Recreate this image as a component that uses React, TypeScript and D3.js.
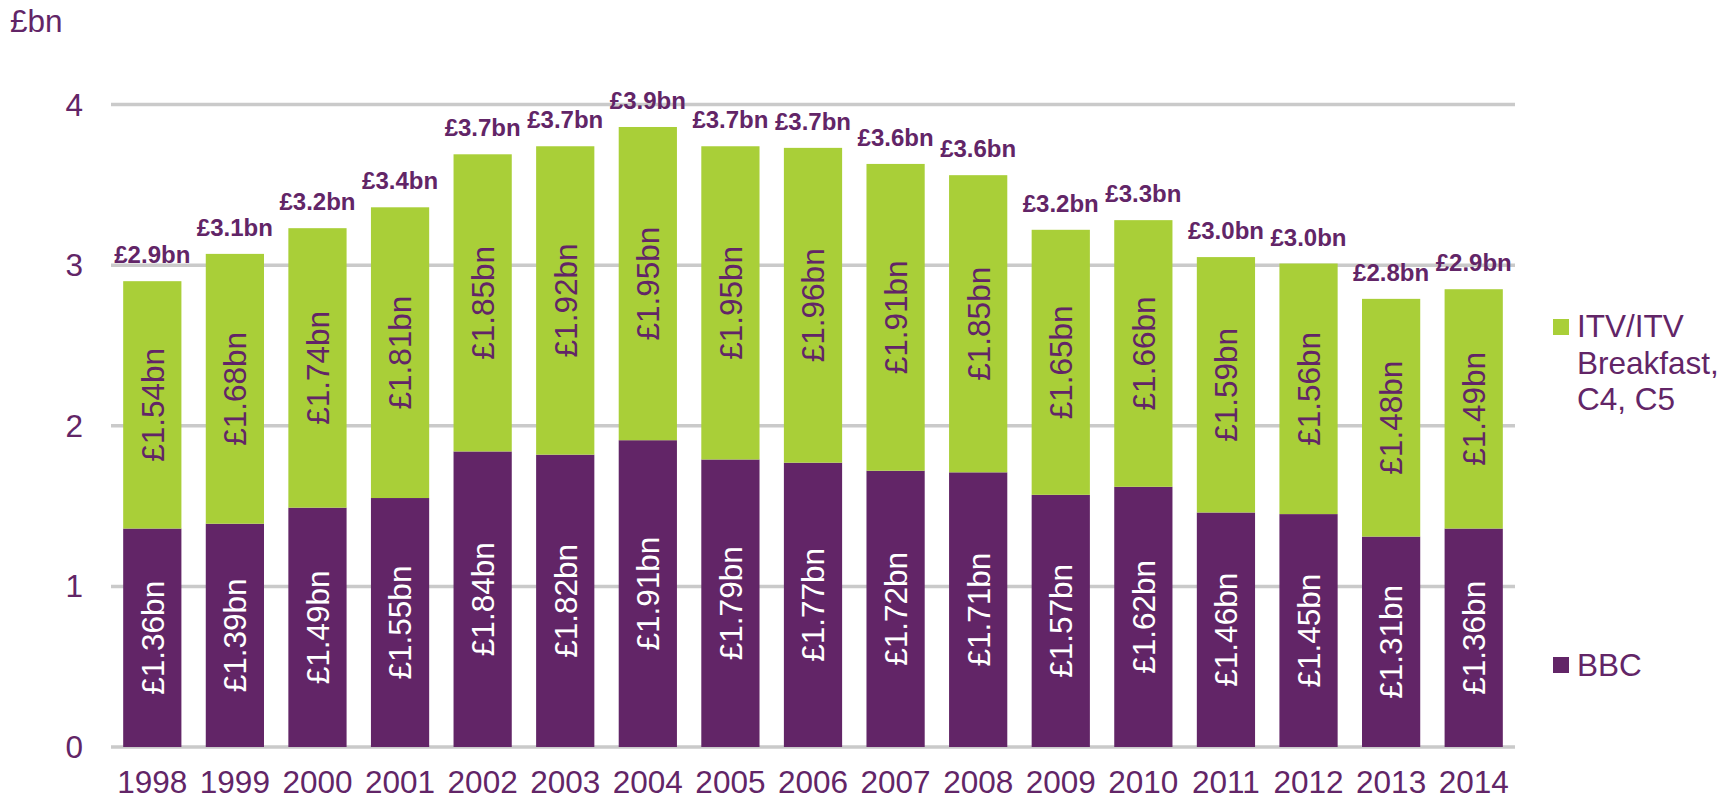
import React, { useEffect, useRef } from 'react';
import * as d3 from 'd3';

const years = ['1998', '1999', '2000', '2001', '2002', '2003', '2004', '2005', '2006', '2007', '2008', '2009', '2010', '2011', '2012', '2013', '2014'];
const bbc = [1.36, 1.39, 1.49, 1.55, 1.84, 1.82, 1.91, 1.79, 1.77, 1.72, 1.71, 1.57, 1.62, 1.46, 1.45, 1.31, 1.36];
const itv = [1.54, 1.68, 1.74, 1.81, 1.85, 1.92, 1.95, 1.95, 1.96, 1.91, 1.85, 1.65, 1.66, 1.59, 1.56, 1.48, 1.49];
const totalLabels = ['£2.9bn', '£3.1bn', '£3.2bn', '£3.4bn', '£3.7bn', '£3.7bn', '£3.9bn', '£3.7bn', '£3.7bn', '£3.6bn', '£3.6bn', '£3.2bn', '£3.3bn', '£3.0bn', '£3.0bn', '£2.8bn', '£2.9bn'];
const yTicks = [0, 1, 2, 3, 4];
const seriesNames = ['BBC', 'ITV/ITV Breakfast, C4, C5'];

const WIDTH = 1731;
const HEIGHT = 800;
const PURPLE = '#622567';
const GREEN = '#a9cf38';
const GRID = '#cacaca';
const FONT = '"Liberation Sans", Arial, sans-serif';
const FS = '31.5px';

const App = () => {
    const ref = useRef<SVGSVGElement>(null);

    useEffect(() => {
        const svg = d3.select(ref.current);
        svg.selectAll('*').remove();

        const x = d3.scaleBand<string>()
            .domain(years)
            .range([111, 1515])
            .paddingInner(0.295)
            .paddingOuter(0.1475);

        const y = d3.scaleLinear()
            .domain([0, 4])
            .range([747, 104.5]);

        // gridlines
        svg.append('g')
            .selectAll('line')
            .data(yTicks)
            .enter().append('line')
            .attr('x1', 111)
            .attr('x2', 1515)
            .attr('y1', d => y(d))
            .attr('y2', d => y(d))
            .attr('stroke', GRID)
            .attr('stroke-width', 3.5);

        // y tick labels
        svg.append('g')
            .selectAll('text')
            .data(yTicks)
            .enter().append('text')
            .attr('x', 83)
            .attr('y', d => y(d) + 11)
            .attr('text-anchor', 'end')
            .style('font-family', FONT)
            .style('font-size', FS)
            .attr('fill', PURPLE)
            .text(d => d);

        // unit label
        svg.append('text')
            .attr('x', 10)
            .attr('y', 32)
            .style('font-family', FONT)
            .style('font-size', FS)
            .attr('fill', PURPLE)
            .text('£bn');

        const bw = x.bandwidth();

        // BBC bars
        svg.append('g')
            .selectAll('rect')
            .data(years)
            .enter().append('rect')
            .attr('x', d => x(d)!)
            .attr('width', bw)
            .attr('y', (d, i) => y(bbc[i]))
            .attr('height', (d, i) => y(0) - y(bbc[i]))
            .attr('fill', PURPLE);

        // ITV bars
        svg.append('g')
            .selectAll('rect')
            .data(years)
            .enter().append('rect')
            .attr('x', d => x(d)!)
            .attr('width', bw)
            .attr('y', (d, i) => y(bbc[i] + itv[i]))
            .attr('height', (d, i) => y(bbc[i]) - y(bbc[i] + itv[i]))
            .attr('fill', GREEN);

        // inner labels, rotated
        const inner = (vals: number[], base: number[], colour: string) => {
            svg.append('g')
                .selectAll('text')
                .data(years)
                .enter().append('text')
                .attr('transform', (d, i) => {
                    const cx = x(d)! + bw / 2;
                    const cy = y(base[i] + vals[i] / 2);
                    return 'translate(' + cx + ',' + cy + ') rotate(-90)';
                })
                .attr('text-anchor', 'middle')
                .attr('dy', '0.36em')
                .style('font-family', FONT)
                .style('font-size', FS)
                .attr('fill', colour)
                .text((d, i) => '£' + vals[i].toFixed(2) + 'bn');
        };
        inner(bbc, bbc.map(() => 0), '#ffffff');
        inner(itv, bbc, PURPLE);

        // totals
        svg.append('g')
            .selectAll('text')
            .data(years)
            .enter().append('text')
            .attr('x', d => x(d)! + bw / 2)
            .attr('y', (d, i) => y(bbc[i] + itv[i]) - 18)
            .attr('text-anchor', 'middle')
            .style('font-family', FONT)
            .style('font-size', '24px')
            .style('font-weight', 'bold')
            .attr('fill', PURPLE)
            .text((d, i) => totalLabels[i]);

        // x axis labels
        svg.append('g')
            .selectAll('text')
            .data(years)
            .enter().append('text')
            .attr('x', d => x(d)! + bw / 2)
            .attr('y', 793)
            .attr('text-anchor', 'middle')
            .style('font-family', FONT)
            .style('font-size', FS)
            .attr('fill', PURPLE)
            .text(d => d);

        // legend
        const legend = svg.append('g');
        legend.append('rect')
            .attr('x', 1553).attr('y', 319)
            .attr('width', 16).attr('height', 16)
            .attr('fill', GREEN);
        const itvText = legend.append('text')
            .attr('x', 1577)
            .attr('y', 337)
            .style('font-family', FONT)
            .style('font-size', FS)
            .attr('fill', PURPLE);
        ['ITV/ITV', 'Breakfast,', 'C4, C5'].forEach((line, i) => {
            itvText.append('tspan')
                .attr('x', 1577)
                .attr('dy', i === 0 ? 0 : 36.5)
                .text(line);
        });
        legend.append('rect')
            .attr('x', 1553).attr('y', 657)
            .attr('width', 16).attr('height', 16)
            .attr('fill', PURPLE);
        legend.append('text')
            .attr('x', 1577)
            .attr('y', 676)
            .style('font-family', FONT)
            .style('font-size', FS)
            .attr('fill', PURPLE)
            .text(seriesNames[0]);
    }, []);

    return (
        <svg
            ref={ref}
            width={WIDTH}
            height={HEIGHT}
            style={{ position: 'absolute', left: 0, top: 0, background: '#fff' }}
        />
    );
};

export default App;
